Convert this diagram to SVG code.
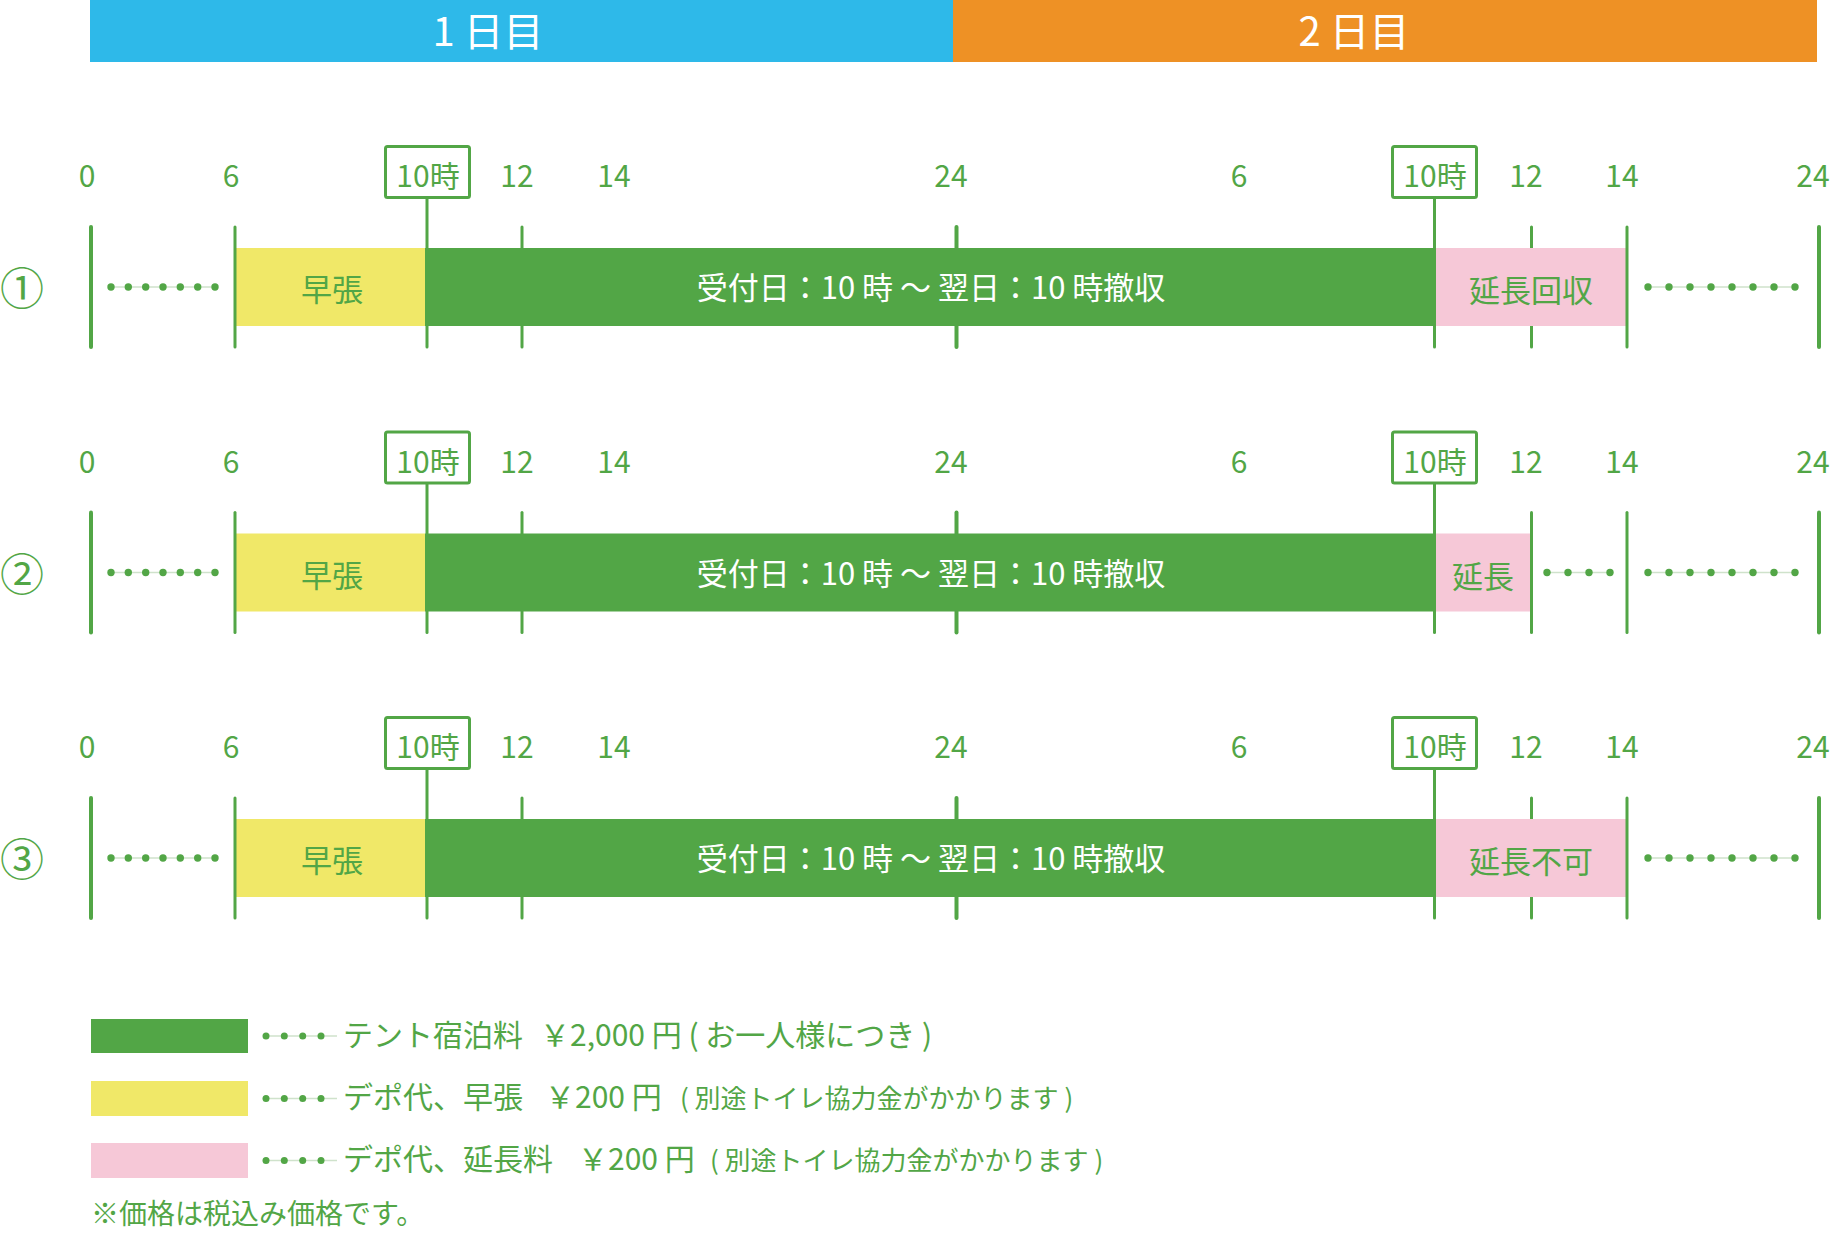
<svg xmlns="http://www.w3.org/2000/svg" width="1832" height="1253" viewBox="0 0 1832 1253">
<style>
text{font-family:"Noto Sans CJK JP","Noto Sans",sans-serif;}
.hd{fill:#fff;font-size:40px;text-anchor:middle;}
.lb{fill:#52a646;font-size:30px;text-anchor:middle;}
.bx{fill:#fff;stroke:#52a646;stroke-width:3;}
.ln{stroke:#52a646;stroke-width:3;stroke-linecap:round;}
.lt{stroke:#52a646;stroke-width:4;stroke-linecap:round;}
.dl{stroke:#cfe2cb;stroke-width:1.5;}
.dt{fill:#52a646;}
.g{fill:#52a646;}
.y{fill:#f0e868;}
.p{fill:#f6c8d7;}
.bt{fill:#52a646;font-size:31px;text-anchor:middle;}
.wt{fill:#fff;font-size:31px;text-anchor:middle;}
.cn{fill:#52a646;font-size:44px;text-anchor:middle;}
.lg{fill:#52a646;font-size:30px;}
.ls{fill:#52a646;font-size:26px;}
.nt{fill:#52a646;font-size:28px;}
</style>
<defs>
<g id="d7"><line class="dl" x1="111" y1="0" x2="215" y2="0"/><circle class="dt" cx="111" cy="0" r="3.7"/><circle class="dt" cx="128.3" cy="0" r="3.7"/><circle class="dt" cx="145.7" cy="0" r="3.7"/><circle class="dt" cx="163" cy="0" r="3.7"/><circle class="dt" cx="180.3" cy="0" r="3.7"/><circle class="dt" cx="197.7" cy="0" r="3.7"/><circle class="dt" cx="215" cy="0" r="3.7"/></g>
<g id="d8"><line class="dl" x1="1648" y1="0" x2="1795" y2="0"/><circle class="dt" cx="1648" cy="0" r="3.7"/><circle class="dt" cx="1669" cy="0" r="3.7"/><circle class="dt" cx="1690" cy="0" r="3.7"/><circle class="dt" cx="1711" cy="0" r="3.7"/><circle class="dt" cx="1732" cy="0" r="3.7"/><circle class="dt" cx="1753" cy="0" r="3.7"/><circle class="dt" cx="1774" cy="0" r="3.7"/><circle class="dt" cx="1795" cy="0" r="3.7"/></g>
<g id="d4"><line class="dl" x1="1547" y1="0" x2="1610" y2="0"/><circle class="dt" cx="1547" cy="0" r="3.7"/><circle class="dt" cx="1568" cy="0" r="3.7"/><circle class="dt" cx="1589" cy="0" r="3.7"/><circle class="dt" cx="1610" cy="0" r="3.7"/></g>
<g id="ld"><line class="dl" x1="266" y1="0" x2="337" y2="0"/><circle class="dt" cx="266" cy="0" r="3.5"/><circle class="dt" cx="284.3" cy="0" r="3.5"/><circle class="dt" cx="302.7" cy="0" r="3.5"/><circle class="dt" cx="321" cy="0" r="3.5"/></g>
<g id="axis">
<text class="lb" x="87" y="187">0</text>
<text class="lb" x="231" y="187">6</text>
<text class="lb" x="517" y="187">12</text>
<text class="lb" x="614" y="187">14</text>
<text class="lb" x="951" y="187">24</text>
<text class="lb" x="1239" y="187">6</text>
<text class="lb" x="1526" y="187">12</text>
<text class="lb" x="1622" y="187">14</text>
<text class="lb" x="1813" y="187">24</text>
<rect class="bx" x="385.5" y="146.5" width="84" height="51" rx="2"/>
<rect class="bx" x="1392.5" y="146.5" width="84" height="51" rx="2"/>
<text class="lb" x="428" y="187">10時</text>
<text class="lb" x="1435" y="187">10時</text>
<line class="ln" x1="522" y1="227" x2="522" y2="347"/>
<line class="lt" x1="956.5" y1="227" x2="956.5" y2="347"/>
<line class="ln" x1="1531.5" y1="227" x2="1531.5" y2="347"/>
</g>
<g id="axis2">
<line class="lt" x1="91" y1="227" x2="91" y2="347"/>
<line class="ln" x1="235" y1="227" x2="235" y2="347"/>
<line class="ln" x1="427" y1="198" x2="427" y2="347"/>
<line class="ln" x1="1434.5" y1="198" x2="1434.5" y2="347"/>
<line class="ln" x1="1627" y1="227" x2="1627" y2="347"/>
<line class="lt" x1="1819" y1="227" x2="1819" y2="347"/>
</g>
<g id="base">
<rect class="y" x="236" y="248" width="189" height="78"/>
<rect class="g" x="425" y="248" width="1011" height="78"/>
<text class="bt" x="332" y="301">早張</text>
<text class="wt" x="931" y="299">受付日：10 時 〜 翌日：10 時撤収</text>
<use href="#d7" y="287"/>
</g>
</defs>

<g id="header">
<rect x="90" y="0" width="863" height="62" fill="#2eb9e9"/>
<rect x="953" y="0" width="864" height="62" fill="#ee9125"/>
<text class="hd" x="488" y="46">1 日目</text>
<text class="hd" x="1354" y="46">2 日目</text>
</g>

<g id="row1">
<use href="#axis"/>
<use href="#base"/>
<rect class="p" x="1436" y="248" width="190" height="78"/>
<text class="bt" x="1531" y="302">延長回収</text>
<use href="#d8" y="287"/>
<use href="#axis2"/>
<text class="cn" x="22" y="305">①</text>
</g>

<g id="row2" transform="translate(0,285.5)">
<use href="#axis"/>
<use href="#base"/>
<rect class="p" x="1436" y="248" width="94" height="78"/>
<text class="bt" x="1483" y="302">延長</text>
<use href="#d4" y="287"/>
<use href="#d8" y="287"/>
<use href="#axis2"/>
<text class="cn" x="22" y="305">②</text>
</g>

<g id="row3" transform="translate(0,571)">
<use href="#axis"/>
<use href="#base"/>
<rect class="p" x="1436" y="248" width="190" height="78"/>
<text class="bt" x="1531" y="302">延長不可</text>
<use href="#d8" y="287"/>
<use href="#axis2"/>
<text class="cn" x="22" y="305">③</text>
</g>

<g id="legend">
<g id="leg-tent">
<rect class="g" x="91" y="1019" width="157" height="34"/>
<use href="#ld" y="1036"/>
<text class="lg" x="343" y="1046">テント宿泊料</text>
<text class="lg" x="540" y="1046">￥2,000 円 ( お一人様につき )</text>
</g>
<g id="leg-early">
<rect class="y" x="91" y="1081" width="157" height="35"/>
<use href="#ld" y="1098.5"/>
<text class="lg" x="343" y="1108">デポ代、早張</text>
<text class="lg" x="545" y="1108">￥200 円</text>
<text class="ls" x="680" y="1108">( 別途トイレ協力金がかかります )</text>
</g>
<g id="leg-ext">
<rect class="p" x="91" y="1143" width="157" height="35"/>
<use href="#ld" y="1160.5"/>
<text class="lg" x="343" y="1170">デポ代、延長料</text>
<text class="lg" x="578" y="1170">￥200 円</text>
<text class="ls" x="710" y="1170">( 別途トイレ協力金がかかります )</text>
</g>
<text class="nt" x="91" y="1224">※価格は税込み価格です。</text>
</g>
</svg>
